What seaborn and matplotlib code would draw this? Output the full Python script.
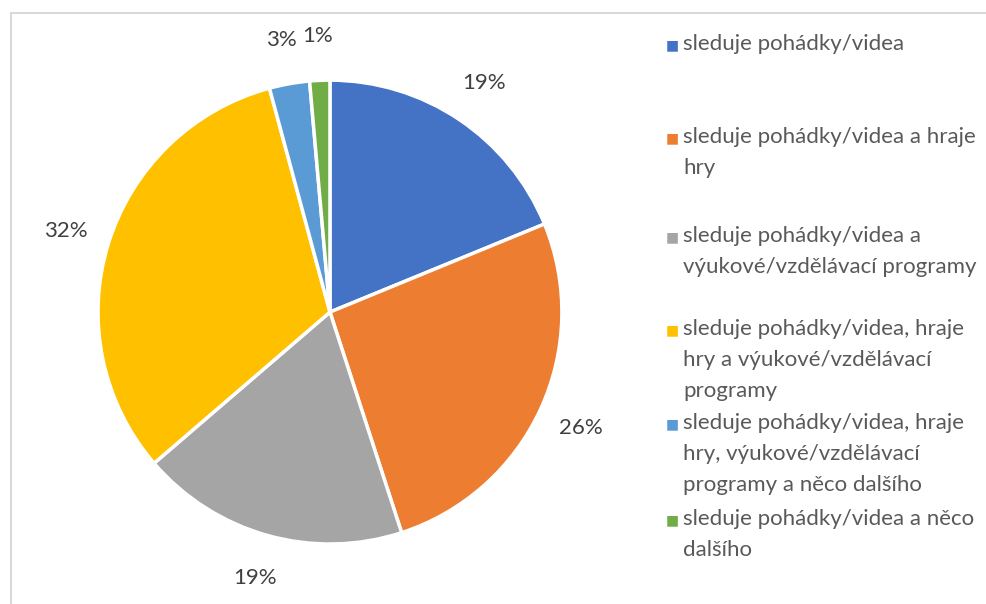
import matplotlib
matplotlib.use('Agg')
import matplotlib.pyplot as plt
import seaborn as sns
from matplotlib.lines import Line2D

sns.set_theme(style='white')
plt.rcParams['font.family'] = ['Lato', 'DejaVu Sans']

# Data
categories = [
    'sleduje pohádky/videa',
    'sleduje pohádky/videa a hraje\nhry',
    'sleduje pohádky/videa a\nvýukové/vzdělávací programy',
    'sleduje pohádky/videa, hraje\nhry a výukové/vzdělávací\nprogramy',
    'sleduje pohádky/videa, hraje\nhry, výukové/vzdělávací\nprogramy a něco dalšího',
    'sleduje pohádky/videa a něco\ndalšího',
]
shares = [18.8, 26.2, 18.7, 32.1, 2.8, 1.4]
colors = ['#4472C4', '#ED7D31', '#A5A5A5', '#FFC000', '#5B9BD5', '#70AD47']

fig = plt.figure(figsize=(9.87, 6.04), dpi=100)
ax = fig.add_axes([0.0993, 0.0993, 0.470, 0.768])

wedges, texts, autotexts = ax.pie(
    shares, colors=colors, startangle=90, counterclock=False,
    autopct='%.0f%%', pctdistance=1.19,
    wedgeprops=dict(edgecolor='white', linewidth=2.5),
    textprops=dict(fontsize=16, color='#404040'),
)
ax.set_xlim(-1, 1)
ax.set_ylim(-1, 1)
ax.set_aspect('equal')

# Legend laid out like the original (equal spacing per entry)
legend_y = [45, 138, 237, 330, 424, 520]
for label, col, y in zip(categories, colors, legend_y):
    yf = 1 - y / 604
    fig.text(672 / 987, yf, '\u25A0', color=col, fontsize=10,
             ha='center', va='center', family='DejaVu Sans')
    fig.text(683 / 987, yf + 0.019, label, color='#595959', fontsize=16,
             ha='left', va='top', linespacing=1.7)

# Chart area border (top and left visible)
fig.add_artist(Line2D([11 / 987, 1], [1 - 13 / 604, 1 - 13 / 604],
                      color='#d9d9d9', lw=1.5, transform=fig.transFigure))
fig.add_artist(Line2D([11 / 987, 11 / 987], [0, 1 - 13 / 604],
                      color='#d9d9d9', lw=1.5, transform=fig.transFigure))

fig.savefig('out.png', dpi=100, facecolor='white')
